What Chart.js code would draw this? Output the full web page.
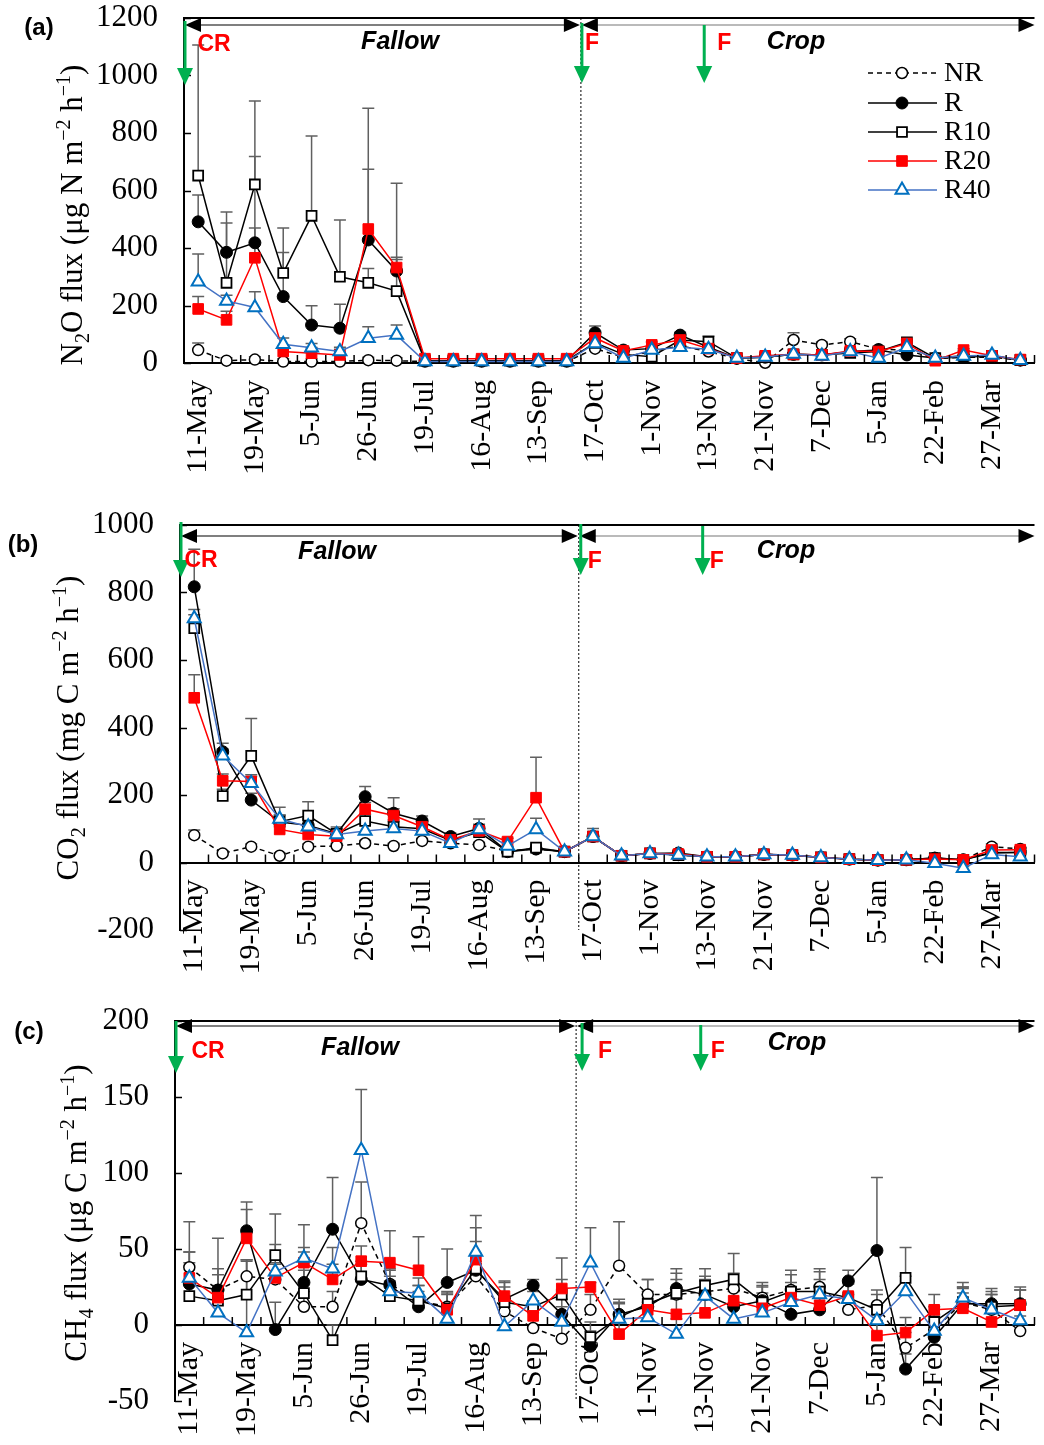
<!DOCTYPE html>
<html>
<head>
<meta charset="utf-8">
<script src="https://cdn.jsdelivr.net/npm/chart.js@4.4.0/dist/chart.umd.min.js"></script>
<style>
  html, body { margin: 0; padding: 0; background: #fff; }
  #wrap { position: relative; width: 1044px; height: 1445px; overflow: hidden; }
  canvas { position: absolute; left: 0; }
</style>
</head>
<body>
<div id="wrap">
  <canvas id="chartA" width="1044" height="495" style="top:0px"></canvas>
  <canvas id="chartB" width="1044" height="495" style="top:495px"></canvas>
  <canvas id="chartC" width="1044" height="455" style="top:990px"></canvas>
</div>
<script>
// sampling dates (only every second one is labelled on the axis)
const labelDates = ['11-May', '19-May', '5-Jun', '26-Jun', '19-Jul', '16-Aug', '13-Sep', '17-Oct',
  '1-Nov', '13-Nov', '21-Nov', '7-Dec', '5-Jan', '22-Feb', '27-Mar'];
const categories = labelDates.flatMap(d => [d, '']);
const seriesNames = ['NR', 'R', 'R10', 'R20', 'R40'];

// (a) N2O flux
const n2oNR  = [45, 8, 12, 5, 5, 5, 10, 8, 5, 5, 5, 5, 5, 5, 50, 20, 40, 60, 40, 15, 1, 80, 63, 74, 48, 45, 15, 20, 20, 10];
const n2oR   = [491, 385, 418, 231, 132, 121, 428, 320, 8, 8, 8, 8, 8, 8, 105, 45, 50, 97, 55, 17, 20, 30, 28, 40, 45, 28, 17, 20, 25, 10];
const n2oR10 = [652, 279, 621, 313, 512, 300, 279, 250, 8, 8, 8, 8, 8, 8, 70, 30, 22, 80, 74, 17, 20, 30, 28, 35, 40, 72, 17, 25, 25, 10];
const n2oR20 = [188, 150, 366, 40, 34, 28, 466, 332, 15, 15, 15, 15, 15, 15, 87, 42, 63, 80, 50, 17, 25, 30, 28, 42, 40, 68, 8, 45, 25, 12];
const n2oR40 = [283, 216, 193, 65, 53, 40, 86, 97, 5, 5, 5, 5, 5, 5, 68, 17, 45, 55, 48, 17, 21, 31, 24, 40, 17, 55, 17, 24, 28, 10];
const n2oErrNR  = [25, 10, 10, 10, 10, 10, 10, 10, 5, 5, 5, 5, 5, 5, 10, 10, 10, 10, 10, 5, 5, 25, 10, 10, 10, 10, 5, 5, 5, 5];
const n2oErrR   = [93, 140, 300, 153, 67, 83, 246, 40, 5, 5, 5, 5, 5, 5, 24, 10, 10, 10, 10, 5, 5, 5, 5, 10, 10, 15, 5, 5, 5, 5];
const n2oErrR10 = [454, 208, 290, 157, 278, 197, 50, 375, 5, 5, 5, 5, 5, 5, 10, 10, 10, 10, 20, 5, 5, 5, 5, 10, 10, 10, 5, 5, 5, 5];
const n2oErrR20 = [43, 30, 104, 20, 20, 20, 420, 36, 5, 5, 5, 5, 5, 5, 10, 10, 10, 10, 10, 5, 5, 5, 5, 5, 5, 10, 5, 5, 5, 5];
const n2oErrR40 = [96, 20, 55, 22, 15, 15, 40, 35, 5, 5, 5, 5, 5, 5, 10, 5, 5, 5, 5, 5, 5, 5, 5, 5, 5, 5, 5, 5, 5, 5];

// (b) CO2 flux
const co2NR  = [81, 27, 47, 20, 47, 49, 57, 49, 64, 57, 52, 35, 40, 32, 77, 20, 27, 22, 17, 17, 24, 22, 15, 10, 7, 8, 13, 8, 47, 40];
const co2R   = [817, 328, 185, 120, 110, 85, 195, 146, 123, 77, 101, 32, 40, 32, 77, 20, 27, 28, 17, 17, 24, 22, 15, 10, 7, 8, 13, 8, 30, 30];
const co2R10 = [694, 197, 316, 121, 139, 85, 123, 106, 100, 65, 90, 32, 44, 32, 77, 20, 27, 22, 17, 17, 24, 22, 15, 10, 7, 8, 13, 8, 28, 30];
const co2R20 = [488, 242, 240, 98, 83, 78, 158, 139, 106, 67, 94, 62, 192, 32, 77, 20, 27, 25, 17, 17, 24, 22, 15, 10, 7, 8, 10, 8, 37, 38];
const co2R40 = [723, 316, 235, 129, 106, 83, 93, 101, 93, 57, 98, 49, 98, 32, 77, 20, 27, 22, 17, 17, 24, 22, 15, 10, 7, 8, -2, -17, 24, 17];
const co2ErrNR  = [15, 8, 8, 8, 8, 8, 8, 8, 8, 8, 8, 8, 8, 8, 10, 5, 5, 5, 5, 5, 5, 5, 5, 5, 5, 5, 5, 5, 8, 5];
const co2ErrR   = [111, 25, 20, 20, 20, 15, 30, 46, 15, 10, 28, 10, 10, 10, 24, 5, 5, 5, 5, 5, 5, 5, 5, 5, 5, 5, 5, 5, 5, 5];
const co2ErrR10 = [40, 20, 111, 20, 41, 20, 20, 20, 10, 10, 10, 10, 10, 10, 10, 5, 5, 5, 5, 5, 5, 5, 5, 5, 5, 5, 5, 5, 5, 5];
const co2ErrR20 = [68, 20, 20, 15, 15, 10, 20, 20, 15, 10, 15, 10, 120, 10, 10, 5, 5, 5, 5, 5, 5, 5, 5, 5, 5, 5, 5, 5, 5, 5];
const co2ErrR40 = [27, 20, 20, 35, 20, 10, 20, 20, 15, 10, 15, 10, 33, 10, 10, 5, 5, 5, 5, 5, 5, 5, 5, 5, 5, 5, 5, 5, 5, 5];

// (c) CH4 flux
const ch4NR  = [38, 23, 32, 30, 12, 12, 67, 27, 16, 12, 32, 9, -2, -9, 10, 39, 20, 20, 22, 24, 18, 23, 25, 10, 13, -15, -3, 15, 10, -4];
const ch4R   = [27, 23, 62, -3, 28, 63, 30, 26, 12, 28, 36, 17, 26, 7, -14, 7, 12, 24, 20, 12, 16, 7, 10, 29, 49, -29, -8, 14, 14, 14];
const ch4R10 = [19, 16, 20, 46, 21, -10, 32, 19, 16, 11, 37, 15, 12, 20, -8, 5, 14, 21, 26, 30, 15, 22, 22, 18, 10, 31, 2, 15, 12, 13];
const ch4R20 = [31, 18, 57, 31, 41, 30, 42, 41, 36, 10, 43, 19, 6, 24, 25, -6, 10, 7, 8, 16, 11, 18, 13, 19, -7, -5, 10, 11, 2, 13];
const ch4R40 = [31, 8, -5, 35, 44, 37, 115, 22, 21, 4, 48, -1, 16, 2, 41, 4, 5, -6, 19, 4, 8, 15, 20, 17, 3, 22, -4, 18, 10, 3];
const ch4ErrNR  = [30, 10, 10, 10, 10, 10, 27, 10, 10, 10, 10, 10, 10, 10, 10, 29, 10, 10, 10, 10, 10, 10, 10, 10, 10, 10, 10, 10, 10, 10];
const ch4ErrR   = [14, 34, 19, 18, 20, 34, 10, 10, 10, 22, 19, 11, 4, 10, 10, 10, 10, 10, 10, 10, 10, 10, 10, 7, 48, 10, 10, 10, 10, 11];
const ch4ErrR10 = [10, 10, 23, 27, 15, 10, 10, 10, 10, 10, 10, 10, 10, 10, 10, 10, 16, 16, 11, 17, 10, 14, 15, 10, 10, 20, 10, 10, 10, 10];
const ch4ErrR20 = [17, 19, 19, 10, 10, 10, 10, 21, 22, 10, 21, 10, 10, 20, 3, 10, 10, 10, 10, 10, 10, 10, 10, 10, 10, 10, 10, 10, 10, 10];
const ch4ErrR40 = [17, 10, 48, 18, 22, 14, 40, 10, 10, 10, 24, 10, 10, 10, 23, 10, 10, 10, 10, 10, 10, 10, 10, 10, 10, 10, 10, 10, 10, 10];

const serif = "'Liberation Serif', 'Times New Roman', serif";
const sans = "'Liberation Sans', Arial, sans-serif";

const seriesStyle = [
  { borderColor: '#000', borderWidth: 1.5, borderDash: [5, 4], pointStyle: 'circle', pointRadius: 5.5,
    pointBackgroundColor: '#fff', pointBorderColor: '#000', pointBorderWidth: 1.5, order: 5 },
  { borderColor: '#000', borderWidth: 1.5, pointStyle: 'circle', pointRadius: 6,
    pointBackgroundColor: '#000', pointBorderColor: '#000', pointBorderWidth: 1, order: 4 },
  { borderColor: '#000', borderWidth: 1.5, pointStyle: 'rect', pointRadius: 7,
    pointBackgroundColor: '#fff', pointBorderColor: '#000', pointBorderWidth: 1.8, order: 3 },
  { borderColor: '#ff0000', borderWidth: 1.5, pointStyle: 'rect', pointRadius: 7.5,
    pointBackgroundColor: '#ff0000', pointBorderColor: '#ff0000', pointBorderWidth: 1, order: 2 },
  { borderColor: '#4472c4', borderWidth: 1.5, pointStyle: 'triangle', pointRadius: 7.5,
    pointBackgroundColor: '#fff', pointBorderColor: '#0070c0', pointBorderWidth: 2, order: 1 }
];

const panels = [
  {
    id: 'chartA', h: 495, top: 18, bottom: 363, left: 184, min: 0, max: 1200, step: 200,
    values: [n2oNR, n2oR, n2oR10, n2oR20, n2oR40],
    errors: [n2oErrNR, n2oErrR, n2oErrR10, n2oErrR20, n2oErrR40],
    tag: '(a)', tagPos: [39, 28],
    title: [['N'], ['2', 'sub'], ['O flux (μg N m'], ['−2', 'sup'], [' h'], ['−1', 'sup'], [')']],
    titlePos: [82, 215],
    arrowY: 25, greenTop: 21, greenTip: 85, crPos: [214, 45], fY: 44, fallow: [400, 42], crop: [796, 42],
    fArrowDx: 1, fTextDx: 11, f2TextDx: 20,
    legend: true
  },
  {
    id: 'chartB', h: 495, top: 30, bottom: 435, left: 180, min: -200, max: 1000, step: 200,
    values: [co2NR, co2R, co2R10, co2R20, co2R40],
    errors: [co2ErrNR, co2ErrR, co2ErrR10, co2ErrR20, co2ErrR40],
    tag: '(b)', tagPos: [23, 50],
    title: [['CO'], ['2', 'sub'], [' flux (mg C m'], ['−2', 'sup'], [' h'], ['−1', 'sup'], [')']],
    titlePos: [78, 233],
    arrowY: 41, greenTop: 27, greenTip: 82, crPos: [201, 66], fY: 67, fallow: [337, 57], crop: [786, 56],
    fArrowDx: 2, fTextDx: 16, f2TextDx: 14,
    legend: false
  },
  {
    id: 'chartC', h: 455, top: 31, bottom: 411, left: 175, min: -50, max: 200, step: 50,
    values: [ch4NR, ch4R, ch4R10, ch4R20, ch4R40],
    errors: [ch4ErrNR, ch4ErrR, ch4ErrR10, ch4ErrR20, ch4ErrR40],
    tag: '(c)', tagPos: [29, 42],
    title: [['CH'], ['4', 'sub'], [' flux (μg C m'], ['−2', 'sup'], [' h'], ['−1', 'sup'], [')']],
    titlePos: [86, 223],
    arrowY: 36, greenTop: 31, greenTip: 83, crPos: [208, 62], fY: 62, fallow: [360, 58], crop: [797, 53],
    fArrowDx: 6, fTextDx: 29, f2TextDx: 17,
    legend: false
  }
];

function drawRich(ctx, parts, x, y, size) {
  ctx.save();
  ctx.translate(x, y);
  ctx.rotate(-Math.PI / 2);
  ctx.textAlign = 'left';
  ctx.textBaseline = 'alphabetic';
  ctx.fillStyle = '#000';
  const fontOf = k => (k ? Math.round(size * 0.66) : size) + 'px ' + serif;
  const widths = parts.map(([t, k]) => { ctx.font = fontOf(k); return ctx.measureText(t).width; });
  let cx = -widths.reduce((s, w) => s + w, 0) / 2;
  parts.forEach(([t, k], i) => {
    ctx.font = fontOf(k);
    const dy = k === 'sub' ? size * 0.22 : k === 'sup' ? -size * 0.4 : 0;
    ctx.fillText(t, cx, dy);
    cx += widths[i];
  });
  ctx.restore();
}

function hArrow(ctx, x1, x2, yy, color) {
  ctx.strokeStyle = color;
  ctx.lineWidth = 1.2;
  ctx.beginPath(); ctx.moveTo(x1 + 8, yy); ctx.lineTo(x2 - 8, yy); ctx.stroke();
  ctx.fillStyle = '#000';
  ctx.beginPath(); ctx.moveTo(x1, yy); ctx.lineTo(x1 + 16, yy - 7); ctx.lineTo(x1 + 16, yy + 7); ctx.closePath(); ctx.fill();
  ctx.beginPath(); ctx.moveTo(x2, yy); ctx.lineTo(x2 - 16, yy - 7); ctx.lineTo(x2 - 16, yy + 7); ctx.closePath(); ctx.fill();
}

function greenArrow(ctx, xx, y1, y2) {
  ctx.strokeStyle = '#00b050';
  ctx.fillStyle = '#00b050';
  ctx.lineWidth = 3;
  ctx.beginPath(); ctx.moveTo(xx, y1); ctx.lineTo(xx, y2 - 14); ctx.stroke();
  ctx.beginPath(); ctx.moveTo(xx - 8, y2 - 17); ctx.lineTo(xx + 8, y2 - 17); ctx.lineTo(xx, y2); ctx.closePath(); ctx.fill();
}

function panelPlugin(p) {
  return {
    id: 'panelDecor',
    beforeDatasetsDraw(chart) {
      const { ctx, scales: { x, y } } = chart;
      ctx.save();
      ctx.strokeStyle = '#606060';
      ctx.lineWidth = 1.5;
      p.errors.forEach((errs, si) => {
        errs.forEach((e, i) => {
          const v = p.values[si][i];
          const px = x.getPixelForValue(i);
          const y0 = y.getPixelForValue(v);
          const y1 = y.getPixelForValue(v + e);
          ctx.beginPath();
          ctx.moveTo(px, y0); ctx.lineTo(px, y1);
          ctx.moveTo(px - 6, y1); ctx.lineTo(px + 6, y1);
          ctx.stroke();
        });
      });
      ctx.restore();
    },
    afterDraw(chart) {
      const { ctx, chartArea: a, scales: { x, y } } = chart;
      const y0 = y.getPixelForValue(0);
      const bound = (x.getPixelForValue(13) + x.getPixelForValue(14)) / 2;
      const f2 = x.getPixelForValue(17.85);
      ctx.save();

      // inward ticks
      ctx.strokeStyle = '#000';
      ctx.lineWidth = 1.5;
      for (let v = p.min; v <= p.max; v += p.step) {
        const py = Math.round(y.getPixelForValue(v)) + 0.5;
        ctx.beginPath(); ctx.moveTo(a.left, py); ctx.lineTo(a.left + 7, py); ctx.stroke();
      }
      for (let i = 0; i <= categories.length; i++) {
        const bx = (x.getPixelForValue(i - 1) + x.getPixelForValue(i)) / 2;
        ctx.beginPath(); ctx.moveTo(bx, y0); ctx.lineTo(bx, y0 - 8); ctx.stroke();
      }

      // frame top line
      ctx.lineWidth = 2;
      ctx.beginPath(); ctx.moveTo(a.left, a.top); ctx.lineTo(a.right, a.top); ctx.stroke();

      // fallow / crop boundary
      ctx.lineWidth = 1;
      ctx.setLineDash([2, 2]);
      ctx.beginPath(); ctx.moveTo(bound, a.top); ctx.lineTo(bound, a.bottom); ctx.stroke();
      ctx.setLineDash([]);

      hArrow(ctx, a.left + 1, bound - 1, p.arrowY, '#000');
      hArrow(ctx, bound + 1, a.right, p.arrowY, '#777');

      greenArrow(ctx, a.left + 1, p.greenTop, p.greenTip);
      greenArrow(ctx, bound + p.fArrowDx, p.greenTop + 2, p.greenTip - 2);
      greenArrow(ctx, f2, p.greenTop + 4, p.greenTip - 2);

      ctx.fillStyle = '#ff0000';
      ctx.font = 'bold 23px ' + sans;
      ctx.textAlign = 'center';
      ctx.textBaseline = 'middle';
      ctx.fillText('CR', p.crPos[0], p.crPos[1]);
      ctx.fillText('F', bound + p.fTextDx, p.fY);
      ctx.fillText('F', f2 + p.f2TextDx, p.fY);

      ctx.fillStyle = '#000';
      ctx.font = 'italic bold 25px ' + sans;
      ctx.fillText('Fallow', p.fallow[0], p.fallow[1]);
      ctx.fillText('Crop', p.crop[0], p.crop[1]);

      ctx.font = 'bold 24px ' + sans;
      ctx.fillText(p.tag, p.tagPos[0], p.tagPos[1]);

      drawRich(ctx, p.title, p.titlePos[0], p.titlePos[1], 31);

      if (p.legend) {
        const rows = [73, 103, 132, 161, 190];
        seriesStyle.forEach((s, i) => {
          const ly = rows[i];
          ctx.strokeStyle = s.borderColor;
          ctx.lineWidth = s.borderWidth;
          ctx.setLineDash(s.borderDash || []);
          ctx.beginPath(); ctx.moveTo(868, ly); ctx.lineTo(937, ly); ctx.stroke();
          ctx.setLineDash([]);
          ctx.fillStyle = s.pointBackgroundColor;
          ctx.strokeStyle = s.pointBorderColor;
          ctx.lineWidth = s.pointBorderWidth;
          Chart.helpers.drawPoint(ctx, { pointStyle: s.pointStyle, radius: s.pointRadius, rotation: 0, borderWidth: s.pointBorderWidth }, 902, ly);
          ctx.fillStyle = '#000';
          ctx.font = '28px ' + serif;
          ctx.textAlign = 'left';
          ctx.textBaseline = 'middle';
          ctx.fillText(seriesNames[i], 944, ly + 1);
        });
      }
      ctx.restore();
    }
  };
}

panels.forEach(p => {
  const datasets = seriesNames.map((name, i) => Object.assign({
    label: name,
    data: p.values[i],
    fill: false,
    tension: 0,
    clip: false
  }, seriesStyle[i]));

  new Chart(document.getElementById(p.id), {
    type: 'line',
    data: { labels: categories, datasets },
    options: {
      responsive: false,
      animation: false,
      devicePixelRatio: 1,
      layout: { padding: { top: p.top, bottom: p.h - p.bottom, left: 0, right: 1 } },
      plugins: { legend: { display: false }, tooltip: { enabled: false } },
      scales: {
        x: {
          type: 'category',
          offset: true,
          position: { y: 0 },
          grid: { display: false, drawTicks: false },
          border: { display: true, color: '#000', width: 2 },
          ticks: {
            autoSkip: false, maxRotation: 90, minRotation: 90, padding: 17,
            color: '#000', font: { family: serif, size: 30 }
          },
          afterFit(s) { s.paddingLeft = 0; s.paddingRight = 0; }
        },
        y: {
          min: p.min, max: p.max,
          grid: { display: false, drawTicks: false },
          border: { display: true, color: '#000', width: 2 },
          ticks: {
            stepSize: p.step, padding: 26, color: '#000', font: { family: serif, size: 31 },
            callback: v => String(v)
          },
          afterFit(s) { s.width = p.left; s.paddingTop = 0; s.paddingBottom = 0; }
        }
      }
    },
    plugins: [panelPlugin(p)]
  });
});
</script>
</body>
</html>
